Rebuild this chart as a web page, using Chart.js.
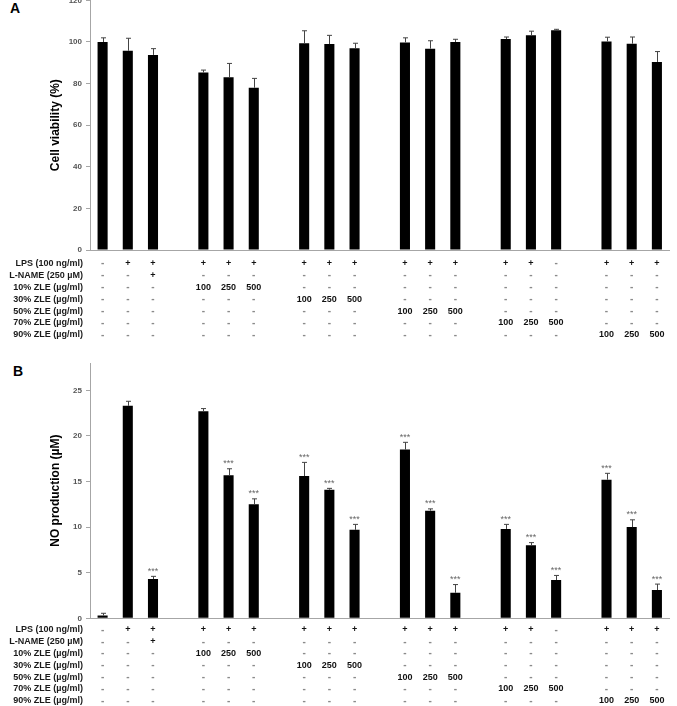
<!DOCTYPE html>
<html>
<head>
<meta charset="utf-8">
<script src="https://cdn.jsdelivr.net/npm/chart.js@4.4.0/dist/chart.umd.min.js"></script>
<style>
  body { margin: 0; background: #fff; width: 677px; height: 706px; overflow: hidden; position: relative; }
  .panel { position: absolute; left: 0; width: 677px; }
  .tag { position: absolute; font: bold 14px "Liberation Sans", Arial, sans-serif; line-height: 14px; }
</style>
</head>
<body>
<div class="tag" style="left:10px;top:1px">A</div>
<div class="panel" style="top:0;height:350px"><canvas id="chartA"></canvas></div>
<div class="tag" style="left:13px;top:364px">B</div>
<div class="panel" style="top:355px;height:351px"><canvas id="chartB"></canvas></div>
<script>
const FONT = '"Liberation Sans", Arial, sans-serif';

// 18 treatments, shown in 6 groups of 3
const treatments = ['Ctrl', 'LPS', 'LPS+L-NAME',
    'LPS+10% 100', 'LPS+10% 250', 'LPS+10% 500',
    'LPS+30% 100', 'LPS+30% 250', 'LPS+30% 500',
    'LPS+50% 100', 'LPS+50% 250', 'LPS+50% 500',
    'LPS+70% 100', 'LPS+70% 250', '70% 500',
    'LPS+90% 100', 'LPS+90% 250', 'LPS+90% 500'];

const viability = [100, 95.8, 93.8, 85.3, 83, 78, 99.4, 99, 97, 99.8, 96.8, 100, 101.4, 103.2, 105.6, 100.3, 99.2, 90.4];
const viabilityErr = [2, 6, 3, 1.2, 6.7, 4.5, 6, 4.2, 2.4, 2.2, 3.8, 1.3, 1, 2, 0.5, 2, 3.2, 5];

const noProd = [0.3, 23.3, 4.3, 22.7, 15.7, 12.5, 15.6, 14.1, 9.7, 18.5, 11.8, 2.8, 9.8, 8.0, 4.2, 15.2, 10.0, 3.1];
const noErr = [0.25, 0.5, 0.3, 0.3, 0.7, 0.6, 1.5, 0.15, 0.6, 0.8, 0.2, 0.9, 0.5, 0.3, 0.5, 0.7, 0.8, 0.65];
const noSig = ['', '', '***', '', '***', '***', '***', '***', '***', '***', '***', '***', '***', '***', '***', '***', '***', '***'];

const viabilityTicks = [0, 20, 40, 60, 80, 100, 120];
const noTicks = [0, 5, 10, 15, 20, 25];

const rowLabels = ['LPS (100 ng/ml)', 'L-NAME (250 µM)', '10% ZLE (µg/ml)', '30% ZLE (µg/ml)',
    '50% ZLE (µg/ml)', '70% ZLE (µg/ml)', '90% ZLE (µg/ml)'];
const rowLps   = ['-', '+', '+', '+', '+', '+', '+', '+', '+', '+', '+', '+', '+', '+', '-', '+', '+', '+'];
const rowLname = ['-', '-', '+', '-', '-', '-', '-', '-', '-', '-', '-', '-', '-', '-', '-', '-', '-', '-'];
const row10    = ['-', '-', '-', '100', '250', '500', '-', '-', '-', '-', '-', '-', '-', '-', '-', '-', '-', '-'];
const row30    = ['-', '-', '-', '-', '-', '-', '100', '250', '500', '-', '-', '-', '-', '-', '-', '-', '-', '-'];
const row50    = ['-', '-', '-', '-', '-', '-', '-', '-', '-', '100', '250', '500', '-', '-', '-', '-', '-', '-'];
const row70    = ['-', '-', '-', '-', '-', '-', '-', '-', '-', '-', '-', '-', '100', '250', '500', '-', '-', '-'];
const row90    = ['-', '-', '-', '-', '-', '-', '-', '-', '-', '-', '-', '-', '-', '-', '-', '100', '250', '500'];
const tableRows = [rowLps, rowLname, row10, row30, row50, row70, row90];

// put an empty slot between every group of 3 bars
function withGaps(arr) {
    const out = [];
    arr.forEach((v, i) => {
        if (i > 0 && i % 3 === 0) out.push(null);
        out.push(v);
    });
    return out;
}

const errorBars = {
    id: 'errorBars',
    afterDatasetsDraw(chart, args, opts) {
        const {ctx, scales: {y}} = chart;
        const meta = chart.getDatasetMeta(0);
        const vals = chart.data.datasets[0].data;
        const err = withGaps(opts.err);
        const sig = opts.sig ? withGaps(opts.sig) : null;
        ctx.save();
        ctx.strokeStyle = '#444';
        ctx.lineWidth = 1;
        meta.data.forEach((bar, i) => {
            if (vals[i] == null) return;
            const x = Math.round(bar.x) + 0.5;
            const yTop = y.getPixelForValue(vals[i] + err[i]);
            ctx.beginPath();
            ctx.moveTo(x, bar.y);
            ctx.lineTo(x, yTop);
            ctx.moveTo(x - 2.5, yTop);
            ctx.lineTo(x + 2.5, yTop);
            ctx.stroke();
            if (sig && sig[i]) {
                ctx.fillStyle = '#666';
                ctx.font = '9px ' + FONT;
                ctx.textAlign = 'center';
                ctx.textBaseline = 'middle';
                ctx.fillText(sig[i], bar.x, yTop - 5);
            }
        });
        ctx.restore();
    }
};

const condTable = {
    id: 'condTable',
    afterDraw(chart, args, opts) {
        const {ctx, chartArea, scales: {x}} = chart;
        ctx.save();
        ctx.textBaseline = 'middle';
        tableRows.forEach((row, r) => {
            const yy = chartArea.bottom + opts.top + r * opts.step;
            ctx.font = 'bold 9px ' + FONT;
            ctx.textAlign = 'right';
            ctx.fillStyle = '#1a1a1a';
            ctx.fillText(rowLabels[r], 83, yy);
            ctx.textAlign = 'center';
            withGaps(row).forEach((v, i) => {
                if (v == null) return;
                const px = x.getPixelForValue(i);
                if (v === '-') {
                    ctx.font = 'bold 10px ' + FONT;
                    ctx.fillStyle = '#8a8a8a';
                } else {
                    ctx.font = 'bold 9px ' + FONT;
                    ctx.fillStyle = '#111';
                }
                ctx.fillText(v, px, yy);
            });
        });
        ctx.restore();
    }
};

function makeChart(id, values, err, sig, ticks, title, pad, table) {
    const tickList = ticks;
    return new Chart(document.getElementById(id), {
        type: 'bar',
        data: {
            labels: withGaps(treatments).map(t => t || ''),
            datasets: [{
                data: withGaps(values),
                backgroundColor: '#000',
                barPercentage: 0.4,
                categoryPercentage: 1.0
            }]
        },
        options: {
            responsive: true,
            maintainAspectRatio: false,
            animation: false,
            layout: {padding: pad},
            scales: {
                x: {
                    grid: {display: false},
                    ticks: {display: false},
                    border: {display: true, color: '#a6a6a6'},
                    afterFit(s) { s.height = 0; s.paddingLeft = 0; s.paddingRight = 0; }
                },
                y: {
                    min: 0,
                    max: ticks.max,
                    afterBuildTicks(s) { s.ticks = tickList.list.map(v => ({value: v})); },
                    ticks: {color: '#555', padding: 4, font: {family: FONT, size: 8, weight: 'bold'}},
                    grid: {display: true, drawOnChartArea: false, drawTicks: true, tickLength: 4, color: '#a6a6a6'},
                    border: {display: true, color: '#a6a6a6'},
                    title: {display: true, text: title, color: '#000',
                        font: {family: FONT, size: 12, weight: 'bold'}, padding: {top: 48, bottom: 0}},
                    afterFit(s) { s.width = 90; s.paddingTop = 0; s.paddingBottom = 0; }
                }
            },
            plugins: {
                legend: {display: false},
                tooltip: {enabled: false},
                errorBars: {err: err, sig: sig},
                condTable: table
            }
        },
        plugins: [errorBars, condTable]
    });
}

makeChart('chartA', viability, viabilityErr, null, {max: 120, list: viabilityTicks},
    'Cell viability (%)', {left: 0, right: 7.5, top: 0.4, bottom: 100}, {top: 13.5, step: 11.9});

makeChart('chartB', noProd, noErr, noSig, {max: 28, list: noTicks},
    'NO production (µM)', {left: 0, right: 7.5, top: 8, bottom: 87.7}, {top: 11.7, step: 11.8});
</script>
</body>
</html>
